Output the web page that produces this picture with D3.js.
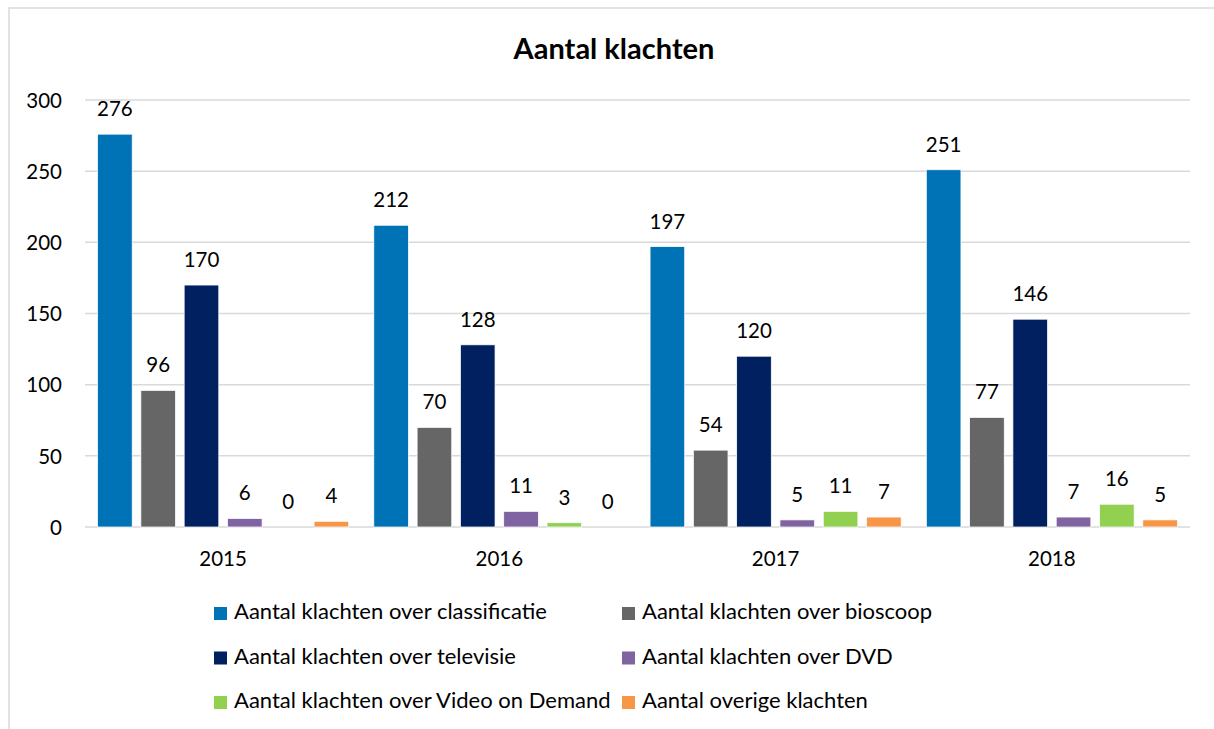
<!DOCTYPE html>
<html>
<head>
<meta charset="utf-8">
<script src="https://cdn.jsdelivr.net/npm/d3@7"></script>
<style>
  body { margin: 0; background: #fff; }
  svg text { font-family: Lato, "Open Sans", sans-serif; fill: #000; }
</style>
</head>
<body>
<div id="chart"></div>
<script>
// --- Data ---
const years = ["2015", "2016", "2017", "2018"];
const seriesNames = [
    "Aantal klachten over classificatie",
    "Aantal klachten over bioscoop",
    "Aantal klachten over televisie",
    "Aantal klachten over DVD",
    "Aantal klachten over Video on Demand",
    "Aantal overige klachten"
];
const classificatie = [276, 212, 197, 251];
const bioscoop = [96, 70, 54, 77];
const televisie = [170, 128, 120, 146];
const dvd = [6, 11, 5, 7];
const videoOnDemand = [0, 3, 11, 16];
const overige = [4, 0, 7, 5];
const yTicks = [0, 50, 100, 150, 200, 250, 300];

const seriesValues = [classificatie, bioscoop, televisie, dvd, videoOnDemand, overige];
const colors = ["#0073b7", "#666666", "#002060", "#8064a2", "#92d050", "#f79646"];

// --- Layout ---
const width = 1214, height = 729;
const plotLeft = 85, plotRight = 1190, plotTop = 100, plotBottom = 527;
const numSize = "20.5px", textSize = "22px";

const svg = d3.select("#chart").append("svg").attr("width", width).attr("height", height);

// chart frame
svg.append("rect").attr("x", 9).attr("y", 8).attr("width", 1215).attr("height", 740)
    .attr("fill", "none").attr("stroke", "#d9d9d9").attr("stroke-width", 1.5);

svg.append("text").attr("x", 614).attr("y", 59).attr("text-anchor", "middle")
    .style("font-size", "29px").style("font-weight", "700").text("Aantal klachten");

const x0 = d3.scaleBand().domain(years).range([plotLeft, plotRight]).paddingInner(0).paddingOuter(0);
const x1 = d3.scaleBand().domain(d3.range(seriesNames.length)).range([0, x0.bandwidth()])
    .paddingInner(0.2).paddingOuter(0.29);
const y = d3.scaleLinear().domain([0, 300]).range([plotBottom, plotTop]);

// gridlines
svg.append("g").selectAll("line").data(yTicks).join("line")
    .attr("x1", plotLeft).attr("x2", plotRight)
    .attr("y1", d => y(d)).attr("y2", d => y(d))
    .attr("stroke", "#d9d9d9").attr("stroke-width", 1.5);

// y axis labels
const yAxis = svg.append("g").attr("transform", `translate(${plotLeft - 23},0)`)
    .call(d3.axisLeft(y).tickValues(yTicks).tickSize(0).tickPadding(0));
yAxis.select(".domain").remove();
yAxis.selectAll("text").style("font-size", numSize).attr("dy", "0.35em");

// x axis labels
const xAxis = svg.append("g").attr("transform", `translate(0,${plotBottom + 39})`)
    .call(d3.axisBottom(x0).tickSize(0).tickPadding(0));
xAxis.select(".domain").remove();
xAxis.selectAll("text").style("font-size", numSize).attr("y", 0).attr("dy", 0);

// bars
const groups = svg.append("g").selectAll("g").data(years).join("g")
    .attr("transform", d => `translate(${x0(d)},0)`);

groups.selectAll("rect").data((d, i) => seriesValues.map((vals, s) => ({ s, v: vals[i] }))).join("rect")
    .attr("x", d => x1(d.s)).attr("width", x1.bandwidth())
    .attr("y", d => y(d.v)).attr("height", d => y(0) - y(d.v))
    .attr("fill", d => colors[d.s])
    .attr("stroke", "#fff").attr("stroke-width", 0.75);

groups.selectAll("text").data((d, i) => seriesValues.map((vals, s) => ({ s, v: vals[i] }))).join("text")
    .attr("x", d => x1(d.s) + x1.bandwidth() / 2).attr("y", d => y(d.v) - 18)
    .attr("text-anchor", "middle").style("font-size", numSize)
    .text(d => d.v);

// legend
const legend = svg.append("g").selectAll("g").data(seriesNames).join("g")
    .attr("transform", (d, i) => `translate(${i % 2 === 0 ? 214 : 622},${607 + Math.floor(i / 2) * 44.5})`);
legend.append("rect").attr("width", 13).attr("height", 13).attr("fill", (d, i) => colors[i]);
legend.append("text").attr("x", 20).attr("y", 12).style("font-size", textSize).text(d => d);
</script>
</body>
</html>
